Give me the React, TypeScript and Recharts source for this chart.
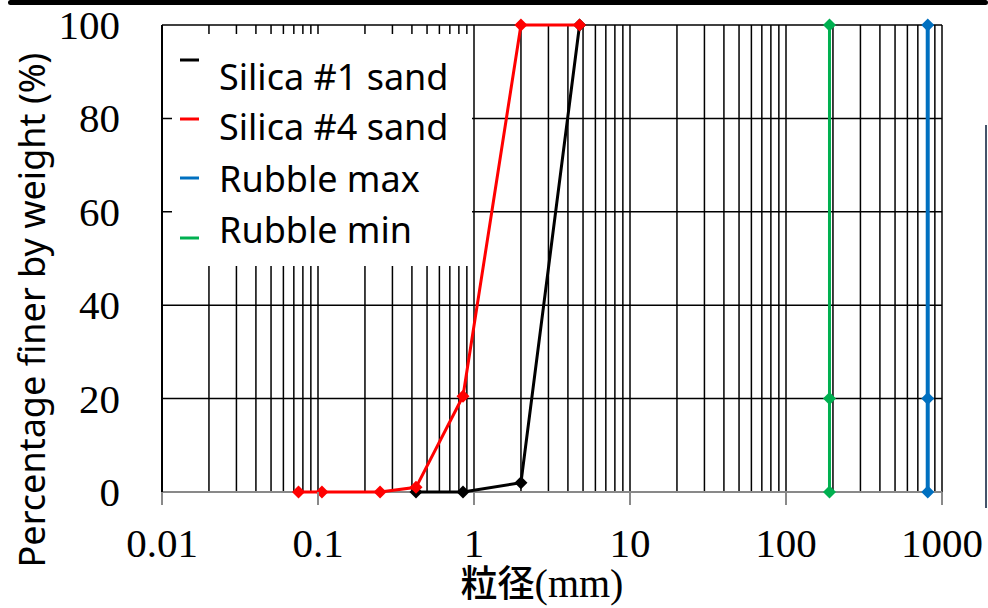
import { ScatterChart, Scatter, XAxis, YAxis, CartesianGrid, Legend } from 'recharts'

// grain size (mm) and percentage finer by weight (%)
const silica1X = [0.425, 0.85, 2.0, 4.75]
const silica1Y = [0, 0, 2, 100]
const silica4X = [0.075, 0.106, 0.25, 0.425, 0.85, 2.0, 4.75]
const silica4Y = [0, 0, 0, 1, 20.5, 100, 100]
const rubbleMaxX = [810, 810, 810]
const rubbleMaxY = [0, 20, 100]
const rubbleMinX = [190, 190, 190]
const rubbleMinY = [0, 20, 100]

const xMajorTicks = [0.01, 0.1, 1, 10, 100, 1000]
const xMinorSteps = [1, 2, 3, 4, 5, 6, 7, 8, 9]
const yTicks = [0, 20, 40, 60, 80, 100]

const toPoints = (xs: number[], ys: number[]) => xs.map((x, i) => ({ x, y: ys[i] }))

const SERIES = [
  { name: 'Silica #1 sand', color: '#000000', data: toPoints(silica1X, silica1Y), width: 3 },
  { name: 'Silica #4 sand', color: '#FF0000', data: toPoints(silica4X, silica4Y), width: 3 },
  { name: 'Rubble min', color: '#00B050', data: toPoints(rubbleMinX, rubbleMinY), width: 3 },
  { name: 'Rubble max', color: '#0070C0', data: toPoints(rubbleMaxX, rubbleMaxY), width: 4 },
]
const LEGEND_ORDER = ['Silica #1 sand', 'Silica #4 sand', 'Rubble max', 'Rubble min']

// every 1..9 x 10^k line for the log grid
const xGridTicks = xMajorTicks
  .slice(0, -1)
  .flatMap((d) => xMinorSteps.map((m) => +(m * d).toPrecision(3)))
  .concat(xMajorTicks[xMajorTicks.length - 1])

const SERIF = '"Liberation Serif", "DejaVu Serif", serif'
const SANS = '"Noto Sans", "Open Sans", sans-serif'

function diamond(color: string) {
  return (props: any) => {
    const { cx, cy } = props
    const r = 6.5
    return (
      <polygon
        points={`${cx},${cy - r} ${cx + r},${cy} ${cx},${cy + r} ${cx - r},${cy}`}
        fill={color}
      />
    )
  }
}

function XTick(props: any) {
  const { x, y, payload } = props
  if (!xMajorTicks.includes(payload.value)) return null
  return (
    <g>
      <line x1={x} x2={x} y1={y} y2={y + 13} stroke="#898989" strokeWidth={2} />
      <text x={x} y={y + 65} textAnchor="middle" fontFamily={SERIF} fontSize={41} fill="#000">
        {payload.value}
      </text>
    </g>
  )
}

function YTick(props: any) {
  const { x, y, payload } = props
  return (
    <text x={x} y={y + 14} textAnchor="end" fontFamily={SERIF} fontSize={41} fill="#000">
      {payload.value}
    </text>
  )
}

function XLabel() {
  return (
    <text x={542} y={597} textAnchor="middle" fill="#000" fontSize={37}>
      <tspan fontFamily='"Noto Sans CJK JP", sans-serif' fontWeight={500}>粒径</tspan>
      <tspan fontFamily={SERIF} fontSize={40}>(mm)</tspan>
    </text>
  )
}

function YLabel() {
  return (
    <text
      x={31}
      y={310}
      transform="rotate(-90 31 310)"
      textAnchor="middle"
      dominantBaseline="central"
      fontFamily={SANS}
      fontSize={36}
      fill="#000"
    >
      Percentage finer by weight (%)
    </text>
  )
}

function LegendBox() {
  const textY = [90, 140, 192, 243]
  const markY = [60, 119, 178, 238]
  return (
    <svg width={300} height={232} style={{ display: 'block', background: '#fff' }}>
      {LEGEND_ORDER.map((name, i) => {
        const s = SERIES.find((d) => d.name === name)!
        return (
          <g key={name}>
            <line x1={8} x2={27} y1={markY[i] - 34} y2={markY[i] - 34} stroke={s.color} strokeWidth={3} />
            <text x={47} y={textY[i] - 34} fontFamily={SANS} fontSize={36} fill="#000">
              {name}
            </text>
          </g>
        )
      })}
    </svg>
  )
}

export default function App() {
  return (
    <div style={{ position: 'absolute', left: 0, top: 0, width: 988, height: 608, background: '#fff' }}>
      <div style={{ position: 'absolute', left: 8, top: 0, width: 980, height: 5, background: '#000', borderRadius: 3 }} />
      <div style={{ position: 'absolute', left: 985, top: 125, width: 2, height: 383, background: '#44546A' }} />
      <ScatterChart width={988} height={608} margin={{ top: 25, right: 46, bottom: 0, left: 0 }}>
        <CartesianGrid stroke="#000" strokeWidth={1.5} />
        <XAxis
          type="number"
          dataKey="x"
          scale="log"
          domain={[0.01, 1000]}
          ticks={xGridTicks}
          allowDataOverflow
          height={116}
          tickSize={0}
          tickMargin={0}
          interval={0}
          tick={<XTick />}
          axisLine={{ stroke: '#898989', strokeWidth: 2 }}
          label={{ content: () => <XLabel /> }}
        />
        <YAxis
          type="number"
          dataKey="y"
          domain={[0, 100]}
          ticks={yTicks}
          width={162}
          tickSize={0}
          tickMargin={42}
          tick={<YTick />}
          axisLine={{ stroke: '#000', strokeWidth: 2 }}
          label={{ content: () => <YLabel /> }}
        />
        <Legend
          layout="vertical"
          align="center"
          verticalAlign="middle"
          content={() => <LegendBox />}
          wrapperStyle={{ left: 172, top: 34, width: 300, height: 232 }}
        />
        {SERIES.map((s) => (
          <Scatter
            key={s.name}
            name={s.name}
            data={s.data}
            fill={s.color}
            line={{ stroke: s.color, strokeWidth: s.width }}
            shape={diamond(s.color)}
            isAnimationActive={false}
          />
        ))}
      </ScatterChart>
    </div>
  )
}
